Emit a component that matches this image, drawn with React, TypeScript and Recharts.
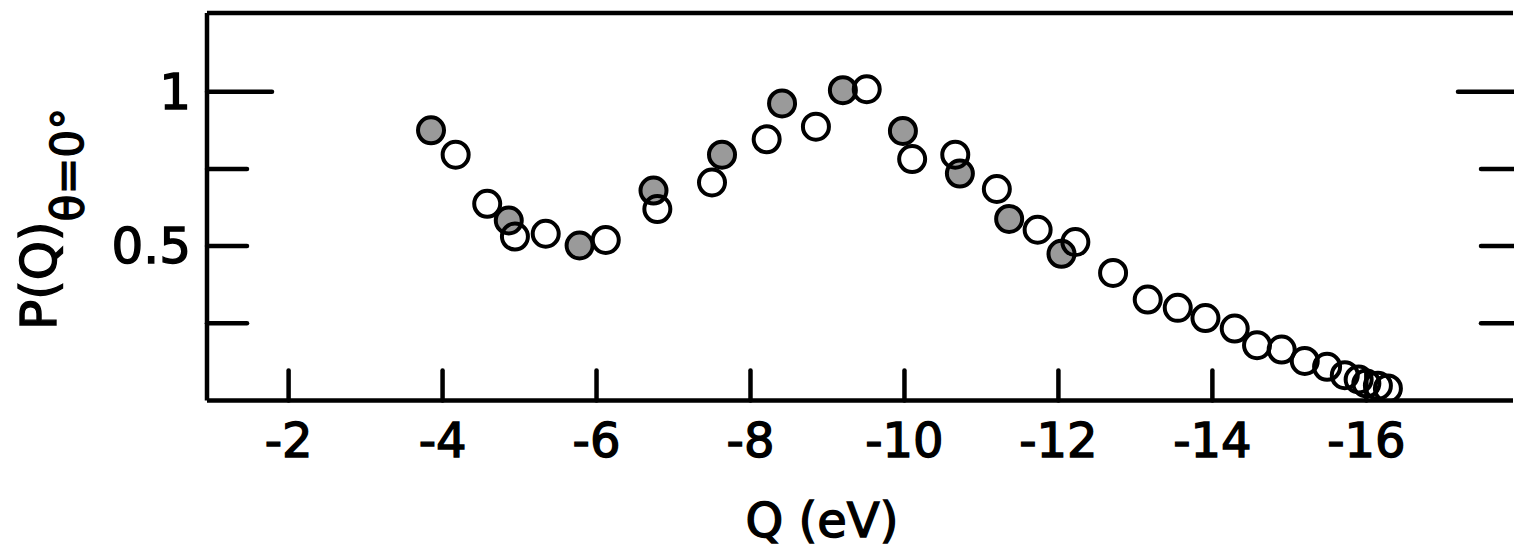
import React from 'react';
import { ScatterChart, Scatter, XAxis, YAxis, ReferenceLine } from 'recharts';

// Shaded (stippled) points: Q in eV, P(Q)
const shadedQ = [-3.85, -4.86, -5.78, -6.74, -7.63, -8.41, -9.2, -9.98, -10.72, -11.36, -12.04];
const shadedP = [0.875, 0.583, 0.502, 0.68, 0.796, 0.962, 1.005, 0.873, 0.735, 0.588, 0.475];

// Open points
const openQ = [
  -4.17, -4.58, -4.94, -5.34, -6.12, -6.79, -7.5, -8.21, -8.85, -9.51, -10.1, -10.66,
  -11.2, -11.73, -12.22, -12.71, -13.16, -13.55, -13.91, -14.29, -14.58, -14.9, -15.2,
  -15.49, -15.72, -15.9, -16.0, -16.15, -16.28,
];
const openP = [
  0.796, 0.637, 0.531, 0.54, 0.52, 0.62, 0.706, 0.846, 0.887, 1.008, 0.782, 0.796,
  0.685, 0.553, 0.513, 0.413, 0.327, 0.3, 0.267, 0.233, 0.179, 0.165, 0.128,
  0.109, 0.082, 0.068, 0.055, 0.048, 0.039,
];

const xTicks = [-2, -4, -6, -8, -10, -12, -14, -16];
const yTicks = [0.25, 0.5, 0.75, 1];
const yTickLabels: Record<string, string> = { '0.5': '0.5', '1': '1' };
const xDomain: [number, number] = [-17.905, -0.94];
const yDomain: [number, number] = [0, 1.255];
const xTitle = 'Q (eV)';
const yTitleMain = 'P(Q)';
const yTitleSub = 'θ=0°';

const shaded = shadedQ.map((q, i) => ({ q, p: shadedP[i] }));
const open = openQ.map((q, i) => ({ q, p: openP[i] }));

const FONT = '"DejaVu Sans", "Liberation Sans", sans-serif';
const SW = 4.5;
const RIGHT_EDGE = 1514;
const TXT = { fontFamily: FONT, fill: '#000', stroke: '#000', strokeWidth: 1.4 } as const;

function XTick(props: any) {
  const { x, y, payload } = props;
  return (
    <g>
      <line x1={x} x2={x} y1={y} y2={y - 30} stroke="#000" strokeWidth={SW} strokeLinecap="round" />
      <text x={x} y={y + 56} textAnchor="middle" fontSize={48} {...TXT}>
        {String(payload.value)}
      </text>
    </g>
  );
}

function YTickLeft(props: any) {
  const { x, y, payload } = props;
  const v = payload.value;
  const len = v === 1 ? 65 : 40;
  const rlen = v === 1 ? 56 : 33;
  const lab = yTickLabels[String(v)];
  return (
    <g>
      <line x1={x} x2={x + len} y1={y} y2={y} stroke="#000" strokeWidth={SW} strokeLinecap="round" />
      <line x1={RIGHT_EDGE + 2} x2={RIGHT_EDGE - rlen} y1={y} y2={y} stroke="#000" strokeWidth={SW} strokeLinecap="round" />
      {lab ? (
        <text x={x - 16} y={y + 17} textAnchor="end" fontSize={50} {...TXT}>
          {lab}
        </text>
      ) : null}
    </g>
  );
}

const ShadedDot = (props: any) => (
  <circle cx={props.cx} cy={props.cy} r={13} fill="#9a9a9a" stroke="#000" strokeWidth={4} />
);
const OpenDot = (props: any) => (
  <circle cx={props.cx} cy={props.cy} r={13} fill="none" stroke="#000" strokeWidth={4} />
);

export default function App() {
  return (
    <>
      <style>{'body{margin:0;overflow:hidden;background:#fff}'}</style>
      <ScatterChart width={1514} height={552} margin={{ top: 13, right: 1, bottom: 0, left: 0 }}>
        <XAxis
          type="number"
          dataKey="q"
          domain={xDomain}
          reversed
          allowDataOverflow
          ticks={xTicks}
          interval={0}
          height={151.5}
          tickSize={0}
          tickMargin={0}
          tickLine={false}
          tick={<XTick />}
          axisLine={{ stroke: '#000', strokeWidth: SW }}
          label={{
            content: () => (
              <text x={822} y={537} textAnchor="middle" fontSize={48} {...TXT}>
                {xTitle}
              </text>
            ),
          }}
        />
        <YAxis
          type="number"
          dataKey="p"
          domain={yDomain}
          allowDataOverflow
          ticks={yTicks}
          interval={0}
          width={207}
          tickSize={0}
          tickMargin={0}
          tickLine={false}
          tick={<YTickLeft />}
          axisLine={{ stroke: '#000', strokeWidth: SW }}
          label={{
            content: () => (
              <text transform="translate(56,330) rotate(-90)" {...TXT}>
                <tspan fontSize={50}>{yTitleMain}</tspan>
                <tspan fontSize={44} dy={27}>
                  {yTitleSub}
                </tspan>
              </text>
            ),
          }}
        />
        <ReferenceLine y={yDomain[1]} stroke="#000" strokeWidth={SW} />
        <Scatter data={shaded} isAnimationActive={false} shape={ShadedDot} />
        <Scatter data={open} isAnimationActive={false} shape={OpenDot} />
      </ScatterChart>
    </>
  );
}
